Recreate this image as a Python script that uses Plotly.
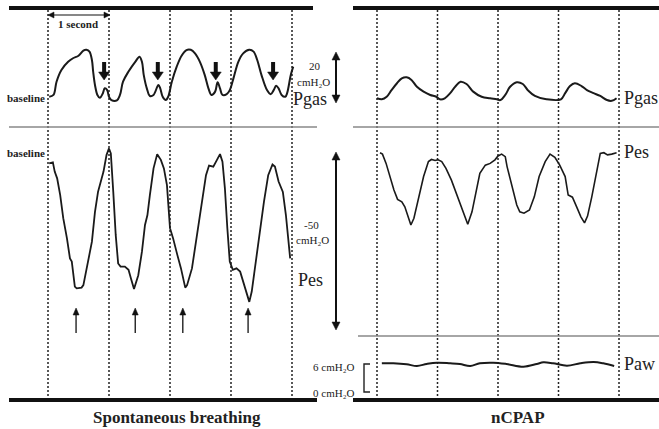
import plotly.graph_objects as go

W, H = 659, 429

# ---------------- DATA (time in s, pressure in cmH2O relative to baseline) ----------------
# Spontaneous breathing - Pgas
sb_pgas_t = [0.02, 0.09, 0.14, 0.22, 0.33, 0.41, 0.50, 0.58, 0.63, 0.68, 0.72, 0.74, 0.77, 0.81, 0.85,
             0.90, 0.93, 0.97, 1.00, 1.04, 1.13, 1.18, 1.23, 1.32, 1.43, 1.50, 1.54, 1.57, 1.62, 1.67,
             1.73, 1.81, 1.84, 1.88, 1.93, 1.97, 2.03, 2.11, 2.19, 2.27, 2.34, 2.41, 2.49, 2.57, 2.63,
             2.68, 2.74, 2.78, 2.82, 2.86, 2.93, 2.98, 3.04, 3.12, 3.20, 3.30, 3.37, 3.43, 3.50, 3.59,
             3.65, 3.70, 3.74, 3.78, 3.83, 3.89, 3.92, 3.98, 4.02]
sb_pgas_v = [0.1, 0.8, 6.0, 10.6, 13.8, 15.2, 16.2, 18.2, 18.5, 17.8, 14.5, 10.0, 4.7, 0.8, -0.3,
             1.5, 3.4, 2.7, 0.1, -1.2, -1.3, 0.8, 6.0, 10.0, 13.8, 15.8, 13.8, 8.6, 3.4, 0.4,
             0.8, 4.7, 3.4, 0.1, -1.2, 0.1, 6.0, 11.9, 16.2, 18.4, 18.5, 17.1, 13.8, 8.6, 3.4,
             0.8, 2.1, 5.8, 3.4, 0.8, 1.1, 2.7, 7.3, 13.8, 17.1, 18.5, 17.8, 14.5, 8.6, 2.7,
             1.1, 2.7, 4.4, 3.4, 0.8, 0.1, 1.5, 8.6, 11.9]

# Spontaneous breathing - Pes
sb_pes_t = [0.02, 0.08, 0.11, 0.15, 0.20, 0.25, 0.31, 0.36, 0.39, 0.41, 0.44, 0.47, 0.55, 0.58, 0.63,
            0.72, 0.77, 0.82, 0.91, 0.96, 1.00, 1.03, 1.07, 1.11, 1.15, 1.19, 1.26, 1.32, 1.36, 1.41,
            1.48, 1.54, 1.59, 1.63, 1.67, 1.73, 1.79, 1.85, 1.90, 1.95, 2.00, 2.05, 2.12, 2.18, 2.25,
            2.28, 2.36, 2.44, 2.52, 2.59, 2.64, 2.71, 2.77, 2.82, 2.86, 2.90, 2.94, 2.98, 3.03, 3.09,
            3.15, 3.20, 3.26, 3.30, 3.34, 3.39, 3.48, 3.54, 3.61, 3.68, 3.72, 3.78, 3.85, 3.90, 3.97]
sb_pes_v = [-3.2, -2.9, -5.5, -7.4, -12.1, -18.6, -24.2, -29.9, -30.8, -33.6, -37.8, -38.3, -38.1, -37.4, -32.7,
            -25.2, -16.8, -11.2, -5.5, -0.8, 1.0, -0.4, -11.2, -23.3, -31.3, -32.2, -32.2, -33.1, -35.5, -38.5,
            -34.6, -28.0, -20.5, -17.7, -12.1, -4.6, -0.6, -2.2, -4.6, -9.3, -21.4, -24.2, -28.9, -32.7, -38.1,
            -37.4, -32.7, -23.3, -14.0, -6.5, -3.8, -4.1, -2.2, -0.6, -2.7, -10.2, -21.4, -30.8, -33.1, -32.7,
            -33.6, -36.4, -40.2, -42.1, -39.2, -32.7, -22.4, -14.0, -6.5, -3.5, -4.1, -8.3, -11.2, -17.7, -29.9]

# nCPAP - Pgas
cp_pgas_t = [0.00, 0.08, 0.16, 0.24, 0.33, 0.41, 0.49, 0.57, 0.66, 0.77, 0.88, 0.98, 1.04, 1.12, 1.21,
             1.29, 1.38, 1.48, 1.59, 1.73, 1.87, 1.98, 2.04, 2.12, 2.20, 2.31, 2.41, 2.50, 2.61, 2.80,
             3.04, 3.11, 3.19, 3.27, 3.38, 3.47, 3.58, 3.69, 3.80, 3.88, 3.96]
cp_pgas_v = [-0.5, -0.9, 0.1, 2.7, 5.4, 7.3, 7.7, 6.7, 4.0, 2.1, 0.8, 0.1, -0.9, -0.5, 1.5,
             4.0, 6.0, 5.1, 2.1, 0.1, -0.5, -0.9, -1.2, 0.8, 4.0, 5.8, 5.1, 2.5, 0.4, -0.9,
             -0.9, 1.5, 4.3, 5.4, 4.3, 2.7, 1.5, 0.4, -1.2, -1.5, -0.5]

# nCPAP - Pes
cp_pes_t = [0.05, 0.09, 0.15, 0.21, 0.28, 0.34, 0.41, 0.46, 0.50, 0.56, 0.61, 0.68, 0.77, 0.85, 0.90,
            0.96, 1.01, 1.07, 1.14, 1.23, 1.33, 1.43, 1.50, 1.57, 1.64, 1.70, 1.79, 1.87, 1.95, 2.00,
            2.06, 2.12, 2.15, 2.23, 2.31, 2.36, 2.43, 2.52, 2.60, 2.68, 2.78, 2.86, 2.94, 3.02, 3.11,
            3.16, 3.23, 3.30, 3.37, 3.43, 3.48, 3.55, 3.62, 3.69, 3.75, 3.81, 3.88, 3.96]
cp_pes_v = [-0.2, -0.6, -3.2, -6.9, -10.7, -13.3, -14.0, -15.4, -17.7, -20.5, -18.6, -13.5, -6.9, -2.7, -2.1,
            -2.4, -2.2, -2.7, -4.6, -7.9, -12.6, -17.2, -20.3, -16.8, -10.7, -6.0, -3.7, -3.2, -2.2, -1.1,
            -0.6, -1.3, -4.1, -9.7, -14.9, -16.8, -17.2, -16.3, -12.6, -6.9, -2.7, -0.6, -1.5, -3.7, -6.9,
            -12.1, -12.7, -15.4, -18.2, -19.9, -18.0, -12.6, -6.0, -0.4, -0.2, -0.8, -0.6, -0.2]

# nCPAP - Paw (absolute cmH2O)
cp_paw_t = [0.08, 0.27, 0.49, 0.66, 0.82, 0.99, 1.21, 1.37, 1.54, 1.70, 1.92, 2.14, 2.42, 2.64, 2.75,
            2.91, 3.14, 3.36, 3.58, 3.74, 3.92]
cp_paw_v = [5.94, 5.94, 5.74, 5.40, 5.80, 6.06, 5.94, 5.80, 5.40, 5.94, 6.06, 5.80, 5.26, 5.80, 6.14,
            5.94, 5.46, 5.94, 6.20, 5.94, 5.40]

grid_seconds = [0, 1, 2, 3, 4]
pgas_arrow_times = [0.92, 1.80, 2.75, 3.69]
pes_arrow_times = [0.46, 1.43, 2.21, 3.28]

# ---------------- LAYOUT GEOMETRY (pixels) ----------------
L_T0, L_PPS = 48.0, 61.0      # left panel: x pixel of t=0, pixels per second
R_T0, R_PPS = 377.0, 60.5     # right panel
PGAS_BASE, PGAS_PPU = 97.0, 2.55
PES_BASE, PES_PPU = 152.0, 3.56
PAW_ZERO, PAW_PPU = 393.0, 5.0


def xr(t0, pps):
    return [(0 - t0) / pps, (W - t0) / pps]


def yr(base, ppu):
    return [(base - H) / ppu, base / ppu]


def PX(x):
    return x / W


def PY(y):
    return 1 - y / H


fig = go.Figure()
line_style = dict(color="#1a1a1a", width=2)
fig.add_trace(go.Scatter(x=sb_pgas_t, y=sb_pgas_v, mode="lines", line=line_style, xaxis="x", yaxis="y",
                         line_shape="spline", hoverinfo="skip"))
fig.add_trace(go.Scatter(x=sb_pes_t, y=sb_pes_v, mode="lines", line=dict(color="#1a1a1a", width=1.8),
                         xaxis="x", yaxis="y2", hoverinfo="skip"))
fig.add_trace(go.Scatter(x=cp_pgas_t, y=cp_pgas_v, mode="lines", line=line_style, xaxis="x2", yaxis="y",
                         line_shape="spline", hoverinfo="skip"))
fig.add_trace(go.Scatter(x=cp_pes_t, y=cp_pes_v, mode="lines", line=dict(color="#1a1a1a", width=1.6),
                         xaxis="x2", yaxis="y2", hoverinfo="skip"))
fig.add_trace(go.Scatter(x=cp_paw_t, y=cp_paw_v, mode="lines", line=line_style, xaxis="x2", yaxis="y3",
                         line_shape="spline", hoverinfo="skip"))

shapes = []
# dotted second markers
for s in grid_seconds:
    for xref in ("x", "x2"):
        shapes.append(dict(type="line", xref=xref, yref="paper", x0=s, x1=s, y0=PY(400), y1=PY(8),
                           line=dict(color="#222", width=1.5, dash="2px,2px"), layer="below"))
# thick black frame lines
for (x0, x1, y) in [(9, 313, 8), (353, W, 8), (9, 317, 400), (353, W, 400)]:
    shapes.append(dict(type="line", xref="paper", yref="paper", x0=PX(x0), x1=PX(x1), y0=PY(y), y1=PY(y),
                       line=dict(color="#111", width=4)))
# gray separators
for (x0, x1, y) in [(9, 317, 127), (353, W, 127), (358, W, 336)]:
    shapes.append(dict(type="line", xref="paper", yref="paper", x0=PX(x0), x1=PX(x1), y0=PY(y), y1=PY(y),
                       line=dict(color="#888", width=1.5)))
# Paw bracket
shapes.append(dict(type="path", xref="paper", yref="paper",
                   path=f"M{PX(370)},{PY(364)} L{PX(364)},{PY(364)} L{PX(364)},{PY(392)} L{PX(370)},{PY(392)}",
                   line=dict(color="#222", width=1.4)))


def head(tx, ty, dx, dy, hl, hw):
    # triangle with tip (tx,ty), pointing along unit (dx,dy)
    bx, by = tx - dx * hl, ty - dy * hl
    nx, ny = -dy, dx
    p1 = (bx + nx * hw / 2, by + ny * hw / 2)
    p2 = (bx - nx * hw / 2, by - ny * hw / 2)
    shapes.append(dict(type="path", xref="paper", yref="paper",
                       path=f"M{PX(tx)},{PY(ty)} L{PX(p1[0])},{PY(p1[1])} L{PX(p2[0])},{PY(p2[1])} Z",
                       fillcolor="#111", line=dict(color="#111", width=0.5)))


def arrow(x0, y0, x1, y1, width, hl, hw, both=False):
    # from (x0,y0) to tip (x1,y1), pixels
    L = ((x1 - x0) ** 2 + (y1 - y0) ** 2) ** 0.5
    dx, dy = (x1 - x0) / L, (y1 - y0) / L
    sx0, sy0 = (x0 + dx * hl * 0.8, y0 + dy * hl * 0.8) if both else (x0, y0)
    sx1, sy1 = x1 - dx * hl * 0.8, y1 - dy * hl * 0.8
    shapes.append(dict(type="line", xref="paper", yref="paper", x0=PX(sx0), y0=PY(sy0), x1=PX(sx1), y1=PY(sy1),
                       line=dict(color="#111", width=width)))
    head(x1, y1, dx, dy, hl, hw)
    if both:
        head(x0, y0, -dx, -dy, hl, hw)


ann = []
serif = "Liberation Serif"


def text(t, x, y, size, xanchor="center", bold=False, color="#222"):
    ann.append(dict(text=f"<b>{t}</b>" if bold else t, x=PX(x), y=PY(y), xref="paper", yref="paper",
                    xanchor=xanchor, yanchor="middle", showarrow=False,
                    font=dict(family=serif, size=size, color=color)))


CMH2O = "cmH\u2082O"

text("baseline", 5, 98, 11, "left", bold=True)
text("baseline", 5, 153, 11, "left", bold=True)
text("1 second", 78, 24, 11, bold=True)
arrow(48, 15, 110, 15, 1.2, 6, 6, both=True)
text("20", 315, 66, 11)
text(CMH2O, 313, 82, 11)
text("Pgas", 310, 99, 18)
text("-50", 311, 225, 11)
text(CMH2O, 312, 240, 11)
text("Pes", 310, 280, 18)
arrow(336, 103, 336, 52, 2, 8, 8, both=True)
arrow(336, 330, 336, 152, 2, 8, 8, both=True)

for t in pgas_arrow_times:
    x = L_T0 + t * L_PPS
    arrow(x, 62, x, 80, 4, 8, 11)
for t in pes_arrow_times:
    x = L_T0 + t * L_PPS
    arrow(x, 333, x, 308, 1.3, 7, 6)

text("Pgas", 622, 98, 18, "left")
text("Pes", 622, 152, 18, "left")
text("Paw", 622, 364, 18, "left")
text("6 " + CMH2O, 333, 367, 11)
text("0 " + CMH2O, 333, 393, 11)
text("Spontaneous breathing", 177, 417, 17, bold=True)
text("nCPAP", 518, 417, 17, bold=True)

fig.update_layout(
    width=W, height=H, autosize=False,
    margin=dict(l=0, r=0, t=0, b=0),
    paper_bgcolor="white", plot_bgcolor="white",
    showlegend=False,
    xaxis=dict(domain=[0, 1], range=xr(L_T0, L_PPS), visible=False, fixedrange=True),
    xaxis2=dict(domain=[0, 1], range=xr(R_T0, R_PPS), visible=False, overlaying="x", fixedrange=True),
    yaxis=dict(domain=[0, 1], range=yr(PGAS_BASE, PGAS_PPU), visible=False, fixedrange=True),
    yaxis2=dict(domain=[0, 1], range=yr(PES_BASE, PES_PPU), visible=False, overlaying="y", fixedrange=True),
    yaxis3=dict(domain=[0, 1], range=yr(PAW_ZERO, PAW_PPU), visible=False, overlaying="y", fixedrange=True),
    shapes=shapes, annotations=ann,
)
fig.write_html("out.html", config={"displayModeBar": False},
               post_script="document.body.style.margin='0';document.body.style.overflow='hidden';")
